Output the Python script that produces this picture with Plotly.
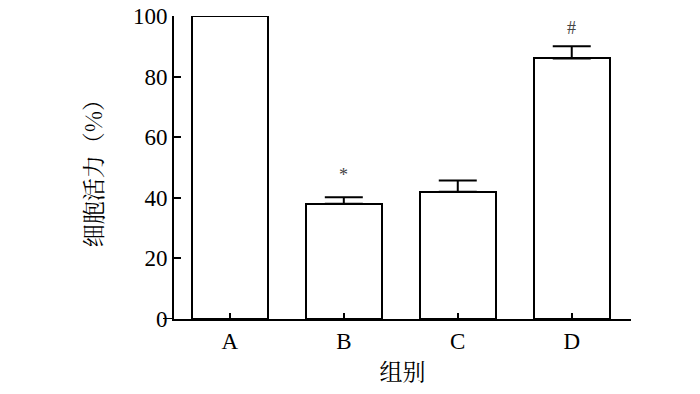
import plotly.graph_objects as go

categories = ["A", "B", "C", "D"]
viability = [100, 38, 42, 86]
err_up = [0, 2.2, 3.7, 4.0]
marks = ["", "*", "", "#"]
mark_y = [0, 47.5, 0, 96]
yticks = [0, 20, 40, 60, 80, 100]

xpos = list(range(len(categories)))
FONT = "Liberation Serif, Times New Roman, serif"
CJK = "Noto Serif CJK SC, Noto Sans CJK SC, serif"

fig = go.Figure()
fig.add_trace(go.Bar(
    x=xpos, y=viability, width=0.667,
    marker=dict(color="white", line=dict(color="black", width=2)),
    error_y=dict(type="data", symmetric=False, array=err_up,
                 arrayminus=[0] * len(err_up),
                 color="black", thickness=2, width=19),
    showlegend=False,
))

for xi, t, yv in zip(xpos, marks, mark_y):
    if t:
        fig.add_annotation(x=xi, y=yv, text=t, showarrow=False,
                           font=dict(family=FONT, size=18, color="#444"))

fig.add_shape(type="line", xref="paper", yref="y", x0=-11 / 457, x1=0,
              y0=0, y1=0, line=dict(color="black", width=2))

fig.update_layout(
    width=700, height=394,
    margin=dict(l=174, r=69, t=16, b=75, autoexpand=False),
    plot_bgcolor="white", paper_bgcolor="white",
    bargap=0,
    font=dict(family=FONT, size=23, color="black"),
    xaxis=dict(range=[-0.49, 3.52], tickvals=xpos + [3.52],
               ticktext=categories + [""], automargin=False,
               ticks="inside", ticklen=6, tickwidth=2, tickcolor="black",
               showline=True, linecolor="black", linewidth=2,
               showgrid=False, zeroline=False,
               tickfont=dict(family=FONT, size=23),
               title=dict(text="组别", font=dict(family=CJK, size=23),
                          standoff=11)),
    yaxis=dict(range=[0, 100], tickvals=yticks, automargin=False,
               ticklabeloverflow="allow",
               ticks="inside", ticklen=7, tickwidth=2, tickcolor="black",
               showline=True, linecolor="black", linewidth=2,
               showgrid=False, zeroline=False,
               tickfont=dict(family=FONT, size=23),
               title=dict(text="细胞活力（%）", font=dict(family=CJK, size=23),
                          standoff=24)),
)

fig.write_html(
    "out.html",
    config={"displayModeBar": False},
    post_script="document.body.style.margin='0';document.body.style.overflow='hidden';",
)
